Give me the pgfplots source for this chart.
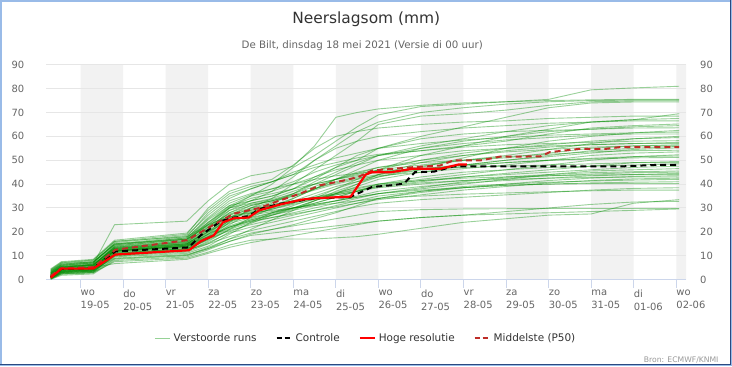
\documentclass[border=0pt]{standalone}
\usepackage{pgfplots}
\usepackage{pgfplotstable}
\pgfplotsset{compat=1.18}
\usepackage{fontspec}
\setmainfont{DejaVu Sans}
\definecolor{cgrid}{HTML}{E6E6E6}
\definecolor{caxis}{HTML}{CCD6EB}
\definecolor{cband}{HTML}{F2F2F2}
\definecolor{ctext}{HTML}{666666}
\definecolor{ctitle}{HTML}{333333}
\definecolor{ccredit}{HTML}{999999}
\definecolor{cens}{RGB}{0,140,0}
\definecolor{censlegend}{RGB}{150,210,150}
\definecolor{cp50}{RGB}{190,45,40}
\definecolor{cframe}{HTML}{99BBE8}
\definecolor{cframedark}{HTML}{2A4A80}

\pgfplotstableread{
name c1 c2 c3 c4 c5 c6 c7 c8 c9 c10 c11 c12 c13 c14 c15 c16 c17 c18 c19 c20 c21
t -0.7 -0.45 0.3 0.8 2.5 3 3.5 4 4.5 5 5.5 6 6.5 7 8 9 10 11 12 13 14.07
m1 2.0 5.0 6.5 23.0 24.5 33.0 40.0 43.5 45.0 47.5 56.0 68.0 70.0 71.5 73.0 74.0 74.5 75.5 79.5 80.3 81.0
m2 1.5 4.5 5.0 13.0 15.5 22.0 30.0 35.0 40.0 47.0 52.0 58.0 64.0 69.0 72.5 73.5 74.5 75.0 75.3 75.5 75.5
m3 3.0 6.0 7.0 15.0 18.0 28.0 35.0 38.0 41.0 44.0 50.0 56.0 62.0 66.0 70.0 72.0 73.5 74.5 75.0 75.2 75.2
m4 1.0 3.5 4.0 11.0 13.0 17.0 24.0 30.0 34.0 40.0 46.0 52.0 58.0 65.0 68.5 69.5 71.0 73.0 74.5 74.8 74.8
m5 2.5 5.5 6.0 14.0 17.0 25.0 31.0 33.0 35.0 38.0 42.0 47.0 52.0 55.0 60.0 64.0 68.0 72.0 74.0 74.4 74.4
m6 0.5 3.0 3.5 10.0 12.0 16.0 21.0 26.0 30.0 34.0 38.0 42.0 46.0 50.0 55.0 58.0 60.0 63.0 66.0 67.0 69.5
m7 4.0 7.0 8.0 16.0 19.0 30.0 37.0 40.0 42.0 48.0 55.0 60.0 62.0 63.5 65.0 66.0 66.5 67.5 68.0 68.5 68.5
m8 2.0 4.5 5.5 12.0 14.5 20.0 27.0 31.0 33.0 36.0 40.0 44.0 48.0 52.0 56.0 59.0 62.0 64.5 66.0 67.0 67.5
m9 1.5 4.0 4.5 12.5 15.0 21.0 29.0 33.0 37.0 43.0 50.0 55.0 58.0 60.0 62.0 63.5 64.5 65.5 66.0 66.5 66.5
m10 3.5 6.5 7.5 14.5 17.5 26.0 33.0 36.0 38.0 41.0 45.0 48.0 50.0 52.0 54.0 56.0 58.0 61.0 63.5 64.5 65.2
m11 0.8 3.0 3.5 9.5 11.0 14.0 19.0 24.0 28.0 31.0 34.0 38.0 42.0 46.0 52.0 56.0 60.0 62.0 63.0 64.0 64.5
m12 2.2 5.0 6.0 13.5 16.0 23.0 30.0 33.0 35.0 38.0 43.0 47.0 50.0 55.0 59.0 61.0 62.0 62.5 63.0 63.5 63.6
m13 1.2 3.8 4.5 11.5 13.5 18.0 25.0 29.0 31.0 33.0 36.0 39.0 41.0 43.0 47.0 51.0 55.0 58.0 60.0 61.5 62.5
m14 3.2 6.0 7.0 15.5 18.5 27.0 34.0 38.0 41.0 45.0 48.0 51.0 53.0 55.0 57.0 58.5 59.5 60.5 61.0 61.5 61.8
m15 0.3 2.5 3.0 10.5 12.5 17.0 23.0 28.0 32.0 36.0 41.0 45.0 49.0 52.0 55.0 57.0 58.5 59.5 60.5 61.0 61.0
m16 2.8 5.5 6.5 13.0 15.0 21.0 28.0 32.0 34.0 37.0 40.0 42.0 44.0 46.0 48.0 50.0 52.0 54.5 57.0 59.0 60.0
m17 1.8 4.2 5.0 12.0 14.0 19.0 26.0 30.0 32.5 35.0 38.0 41.0 43.0 46.0 50.0 53.0 55.0 56.5 58.0 59.0 59.5
m18 4.5 7.5 8.5 16.5 19.5 29.0 36.0 39.0 41.0 44.0 47.0 49.0 51.0 52.5 54.0 55.5 56.5 57.0 57.5 58.0 58.2
m19 0.6 3.2 4.0 11.0 13.0 17.5 22.0 25.0 27.5 30.0 33.0 36.0 40.0 44.0 49.0 52.0 54.0 55.5 56.5 57.0 57.5
m20 2.6 5.2 6.0 13.8 16.5 24.0 31.0 35.0 37.0 40.0 43.0 46.0 48.0 50.0 52.0 54.0 55.0 56.0 56.5 57.0 57.0
m21 1.4 4.0 4.8 12.2 14.5 19.5 26.0 29.0 31.0 34.0 38.0 42.0 45.0 47.0 49.0 50.0 51.0 53.0 55.0 56.0 56.5
m22 3.8 6.8 7.5 15.0 17.0 24.0 30.0 32.0 33.5 36.0 39.0 42.0 44.5 47.0 50.0 52.0 53.5 54.5 55.5 56.0 56.0
m23 0.2 2.2 2.8 8.5 10.0 13.0 17.0 21.0 25.0 29.0 33.0 37.0 40.0 43.0 46.0 48.0 50.0 52.0 54.0 55.0 55.8
m24 2.1 4.8 5.8 13.2 15.8 22.0 28.0 31.0 33.0 35.5 38.0 40.5 42.5 44.0 46.0 48.0 50.0 51.5 53.0 54.5 55.2
m25 1.0 3.6 4.2 11.8 14.0 18.5 24.0 27.0 29.5 32.0 35.0 38.0 41.0 44.0 47.5 50.0 51.5 52.5 53.5 54.0 54.2
m26 3.0 5.8 6.8 14.2 16.8 23.0 29.0 31.5 33.0 35.0 37.5 40.0 42.0 43.5 45.0 46.5 48.0 50.0 52.0 53.0 53.5
m27 1.6 4.4 5.2 12.8 15.0 20.0 25.5 28.0 30.0 32.0 34.0 36.0 38.0 40.0 42.0 44.0 46.0 48.0 50.0 51.5 52.3
m28 0.4 2.8 3.4 9.8 11.5 15.0 20.0 23.5 27.0 30.0 33.0 36.0 39.0 42.0 45.0 47.5 49.0 50.0 50.8 51.5 51.8
m29 2.4 5.2 6.2 13.6 16.2 23.5 30.5 34.0 36.0 38.0 40.0 42.0 43.5 45.0 46.5 48.0 49.0 50.0 50.5 51.0 51.2
m30 1.3 3.9 4.6 12.0 14.2 19.0 24.5 27.5 29.5 31.5 33.5 35.5 37.0 39.0 41.0 43.0 44.5 46.0 47.5 49.0 49.5
m31 3.4 6.2 7.2 14.8 17.5 25.5 32.0 35.5 38.0 40.0 42.0 43.5 44.5 45.5 46.5 47.0 47.5 48.0 48.5 49.0 49.0
m32 0.9 3.4 4.0 11.2 13.0 17.0 21.5 24.5 27.0 29.5 32.0 34.5 37.0 40.0 43.0 45.0 46.0 47.0 47.5 48.0 48.5
m33 2.3 5.0 5.8 12.6 14.8 20.5 26.0 28.5 30.5 32.5 34.5 36.5 38.5 40.0 41.5 43.0 44.0 45.0 46.0 47.0 47.5
m34 1.7 4.3 5.0 12.4 14.6 19.0 23.5 26.0 28.0 30.0 31.5 33.0 34.5 36.0 38.0 40.0 42.0 44.0 45.5 46.0 46.5
m35 0.7 3.1 3.8 10.8 12.8 16.5 21.0 24.0 26.0 28.0 30.0 32.0 34.0 36.0 38.5 41.0 43.0 44.0 44.8 45.2 45.5
m36 2.9 5.6 6.4 13.4 15.6 21.5 27.0 29.5 31.0 32.5 34.0 35.5 37.0 38.5 40.0 41.5 42.5 43.5 44.2 44.8 45.0
m37 1.1 3.7 4.4 11.6 13.6 17.5 22.0 25.0 27.0 29.0 31.0 33.0 35.0 37.0 39.0 40.5 41.5 42.5 43.5 44.0 44.5
m38 2.0 4.6 5.4 12.3 14.4 18.0 22.5 25.5 28.0 30.0 32.0 34.5 37.0 39.5 41.5 42.5 43.0 43.5 43.8 44.0 44.0
m39 0.5 2.9 3.6 10.2 12.0 15.5 19.5 22.0 24.0 26.0 28.0 30.0 32.0 34.0 36.5 38.5 40.0 41.5 42.5 43.2 43.5
m40 3.6 6.4 7.4 14.6 17.0 22.5 27.5 30.0 31.5 33.0 34.5 36.0 37.5 39.0 40.5 41.5 42.0 42.5 42.8 43.0 43.0
m41 1.9 4.5 5.3 12.1 14.0 18.0 22.0 24.5 26.0 27.5 29.0 30.5 32.0 33.5 35.5 37.5 39.0 40.5 41.5 42.2 42.5
m42 0.1 1.8 2.4 8.0 9.5 12.5 16.0 19.0 21.0 23.0 25.5 28.0 31.0 34.0 37.0 39.0 40.0 40.8 41.3 41.7 42.0
m43 2.7 5.3 6.1 13.0 15.2 20.0 24.5 27.0 28.5 30.0 31.5 33.0 34.5 36.0 37.5 38.5 39.5 40.0 40.5 40.8 41.0
m44 1.5 4.1 4.9 11.9 13.8 17.0 20.5 23.0 25.0 27.0 29.0 31.0 33.0 35.0 37.0 38.5 39.5 40.0 40.2 40.2 40.2
m45 0.8 3.3 3.9 10.6 12.4 15.0 18.0 20.5 22.5 24.5 26.5 28.5 30.5 32.0 33.5 34.5 35.5 36.5 37.5 38.2 38.5
m46 4.2 7.2 8.2 16.0 18.0 23.0 26.5 28.0 29.0 30.0 31.0 32.0 33.0 34.0 35.0 35.8 36.3 36.8 37.2 37.5 37.5
m47 0.3 2.4 3.0 7.5 9.0 11.5 14.5 16.5 17.0 17.0 17.0 17.5 18.0 19.0 21.5 24.0 25.5 27.0 27.5 32.0 33.5
m48 1.2 3.5 4.2 9.0 10.5 13.0 16.0 18.5 19.5 20.5 21.5 22.5 23.5 24.5 26.0 27.0 28.5 30.0 31.5 32.5 32.8
m49 0.6 2.6 3.2 8.8 10.2 13.5 17.0 19.5 21.0 22.5 24.0 25.5 27.0 28.5 29.3 29.6 29.7 29.8 29.8 29.8 29.8
m50 2.0 4.4 5.0 6.7 8.5 11.0 13.5 15.5 17.0 18.5 20.0 21.5 23.0 24.5 26.0 27.0 27.5 28.0 28.5 29.0 29.6
}\ensraw
\pgfplotstabletranspose[colnames from=name]{\ens}{\ensraw}

\pgfplotstableread{
x y
-0.7 1.0
-0.45 4.5
0.3 4.8
0.82 11.8
2.55 13.5
2.82 18.5
3.3 24.5
3.6 26.0
3.95 26.5
4.2 29.5
4.7 31.8
5.2 33.2
5.5 34.0
6.34 34.6
6.85 38.8
7.3 39.5
7.6 40.2
7.86 45.0
8.3 45.2
8.76 47.4
12.68 47.4
13.6 48.1
14.07 48.1
}\control

\pgfplotstableread{
x y
-0.7 0.8
-0.45 4.6
0.3 4.6
0.82 10.5
2.55 12.3
2.82 16.0
3.13 18.5
3.35 24.0
3.6 25.7
3.95 26.0
4.2 29.0
4.7 31.5
5.2 33.5
5.45 34.0
6.35 34.8
6.7 44.0
6.85 45.0
7.3 45.0
7.8 46.4
8.45 46.4
8.88 48.2
9.08 48.2
}\hres

\pgfplotstableread{
x y
-0.7 1.5
-0.45 4.8
0.3 5.2
0.82 12.5
2.5 16.5
3.13 23.0
3.6 27.6
4.2 30.0
4.69 33.2
5.16 36.0
5.63 39.5
6.18 41.5
6.53 43.0
6.85 45.7
7.82 47.1
8.45 47.8
8.76 49.9
9.39 49.9
9.86 51.5
10.8 51.6
11.03 53.4
11.74 54.8
12.36 54.8
12.68 55.5
14.07 55.5
}\pfifty

\begin{document}
\begin{tikzpicture}
\fill[white] (0,0) rectangle (732bp,366bp);

% background bands (under the grid)
\begin{axis}[
  at={(46bp,86.7bp)}, anchor=south west,
  scale only axis, width=640bp, height=215bp,
  xmin=-0.8, xmax=14.23, ymin=0, ymax=90,
  hide axis,
]
\addplot[ybar interval, fill=cband, draw=none, forget plot] coordinates {(0,90) (1,0) (2,90) (3,0) (4,90) (5,0) (6,90) (7,0) (8,90) (9,0) (10,90) (11,0) (12,90) (13,0) (14,90) (14.23,0)};
\end{axis}

\begin{axis}[
  at={(46bp,86.7bp)}, anchor=south west,
  scale only axis, width=640bp, height=215bp,
  xmin=-0.8, xmax=14.23, ymin=0, ymax=90,
  axis x line*=bottom, axis y line*=left,
  x axis line style={draw=caxis, line width=1bp, -},
  y axis line style={draw=none, -},
  ymajorgrids, grid style={draw=cgrid, line width=1bp},
  ytick={0,10,...,90},
  xtick={0,...,14},
  xticklabels={{wo\\19-05},{do\\20-05},{vr\\21-05},{za\\22-05},{zo\\23-05},{ma\\24-05},{di\\25-05},{wo\\26-05},{do\\27-05},{vr\\28-05},{za\\29-05},{zo\\30-05},{ma\\31-05},{di\\01-06},{wo\\02-06}},
  tick align=outside, major tick length=8bp,
  xtick style={draw=caxis, line width=1bp},
  ytick style={draw=none},
  /pgf/number format/assume math mode=true,
  yticklabel style={font=\fontsize{10}{12}\selectfont, text=ctext, anchor=east, inner sep=0pt, xshift=-14bp},
  xticklabel style={font=\fontsize{10}{13.3}\selectfont, text=ctext, align=left, anchor=north west, inner sep=0pt, yshift=-2bp},
  legend columns=4,
  legend style={at={(0.5,-0.273)}, anchor=center, draw=none, fill=none,
    font=\fontsize{10.5}{12}\selectfont, text=ctitle,
    /tikz/every even column/.append style={column sep=16bp},
    nodes={inner xsep=3bp, inner ysep=1bp}},
  legend image code/.code={\draw[#1] (0bp,0bp) -- (15bp,0bp);},
]
\addlegendimage{censlegend, line width=1.5bp}
\addlegendentry{Verstoorde runs}
\addlegendimage{black, line width=2bp, dash pattern=on 5bp off 3bp}
\addlegendentry{Controle}
\addlegendimage{red, line width=2bp}
\addlegendentry{Hoge resolutie}
\addlegendimage{cp50, line width=2bp, dash pattern=on 5bp off 3bp}
\addlegendentry{Middelste (P50)}

\pgfplotsinvokeforeach{1,...,50}{
  \addplot[cens, opacity=0.4, line width=0.9bp, forget plot] table[x=t, y=m#1] {\ens};
}
\addplot[black, line width=2bp, dash pattern=on 6bp off 4bp, forget plot] table[x=x,y=y] {\control};
\addplot[cp50, line width=2bp, dash pattern=on 6bp off 4bp, forget plot] table[x=x,y=y] {\pfifty};
\addplot[red, line width=2.2bp, forget plot] table[x=x,y=y] {\hres};
\end{axis}

\begin{axis}[
  at={(46bp,86.7bp)}, anchor=south west,
  scale only axis, width=640bp, height=215bp,
  xmin=-0.8, xmax=14.23, ymin=0, ymax=90,
  axis x line=none, axis y line*=right,
  y axis line style={draw=none, -},
  ytick={0,10,...,90}, ytick style={draw=none},
  /pgf/number format/assume math mode=true,
  yticklabel style={font=\fontsize{10}{12}\selectfont, text=ctext, anchor=west, inner sep=0pt, xshift=14bp},
]
\addplot[draw=none] coordinates {(0,0)};
\end{axis}

\node[anchor=base, font=\fontsize{15.5}{18}\selectfont, text=ctitle] at (366bp,343.3bp) {Neerslagsom (mm)};
\node[anchor=base, font=\fontsize{10.3}{12}\selectfont, text=ctext] at (362bp,318.3bp) {De Bilt, dinsdag 18 mei 2021 (Versie di 00 uur)};
\node[anchor=base east, font=\fontsize{7.7}{9}\selectfont, text=ccredit] at (722bp,3.5bp) {Bron: ECMWF/KNMI};

\draw[cframe, line width=1.5bp] (0.75bp,0.75bp) rectangle (731.25bp,365.25bp);
\draw[cframedark, line width=1bp] (0bp,2bp) -- (730bp,2bp) -- (730bp,366bp);
\end{tikzpicture}
\end{document}
